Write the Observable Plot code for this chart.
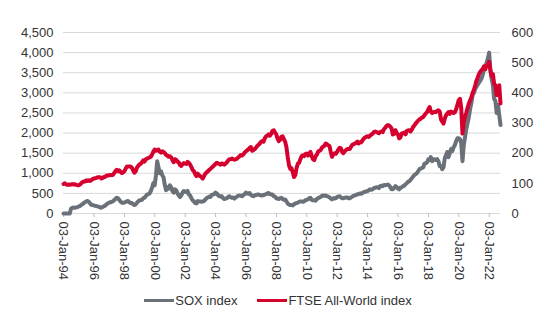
<!DOCTYPE html>
<html>
<head>
<meta charset="utf-8">
<script src="https://cdn.jsdelivr.net/npm/d3@7"></script>
<script src="https://cdn.jsdelivr.net/npm/@observablehq/plot@0.6"></script>
<style>
  body { margin: 0; background: #fff; font-family: "Liberation Sans", Arial, sans-serif; }
  #chart { width: 550px; height: 290px; }
  #legend { display: flex; justify-content: center; align-items: center; height: 20px; padding-left: 6px; font-size: 13px; color: #333; }
  .item { display: flex; align-items: center; margin: 0 10px; }
  .sw { width: 30px; height: 3px; margin-right: 1px; }
</style>
</head>
<body>
<div id="chart"></div>
<div id="legend"></div>
<script>
// Monthly observations (first of month), Jan 1994 .. Oct 2022
const startMonth = "1994-01-01";
const endMonth = "2022-10-01";

const seriesNames = ["SOX index", "FTSE All-World index"];
const seriesColors = ["#6b7179", "#d6002f"];

// SOX index (left axis)
const soxIndex = [
  0,0,0,0,0,0,125,140,150,145,150,160,                 // 1994
  175,185,210,230,260,280,300,310,290,250,215,210,     // 1995
  200,190,185,175,170,150,145,165,180,200,230,250,     // 1996
  270,280,290,300,330,360,390,380,340,300,270,270,     // 1997
  270,290,300,310,280,260,260,230,210,230,270,300,     // 1998
  330,330,340,380,390,430,470,480,500,560,650,760,     // 1999
  700,950,1300,1150,1000,1050,950,900,700,580,650,620, // 2000
  700,650,560,520,600,580,500,450,410,450,520,560,     // 2001
  540,530,560,470,450,380,330,300,260,250,310,300,     // 2002
  300,290,300,310,350,380,400,420,410,460,470,480,     // 2003
  520,500,460,430,420,430,380,360,370,380,410,430,     // 2004
  400,390,400,370,400,420,440,450,440,430,460,480,     // 2005
  520,500,490,510,460,440,430,450,460,470,470,460,     // 2006
  450,450,460,470,480,500,510,480,470,470,430,420,     // 2007
  380,370,360,380,390,360,340,350,300,250,220,210,     // 2008
  210,200,230,250,260,270,290,300,300,290,300,330,     // 2009
  340,350,380,390,340,330,330,320,360,380,400,410,     // 2010
  440,450,440,450,430,420,400,370,350,380,370,380,     // 2011
  410,420,430,400,380,380,390,400,400,380,380,400,     // 2012
  420,440,450,460,480,480,500,490,510,530,540,550,     // 2013
  560,580,600,590,600,630,640,650,650,630,680,690,     // 2014
  680,710,700,710,720,700,660,600,600,640,680,660,     // 2015
  620,600,640,650,680,690,730,750,790,800,840,880,     // 2016
  920,960,980,1000,1050,1100,1120,1130,1150,1240,1250,1270, // 2017
  1350,1330,1400,1300,1340,1350,1330,1350,1300,1180,1180,1100, // 2018
  1150,1380,1450,1530,1400,1500,1600,1550,1650,1700,1800,1870, // 2019
  1870,1850,1750,1300,1700,1900,2100,2250,2400,2600,2750,2950, // 2020
  3000,3100,3150,3200,3250,3300,3350,3450,3600,3650,3750,3850, // 2021
  4000,3550,3350,3200,2850,2800,2500,2700,2450,2200            // 2022
];

// FTSE All-World index (right axis)
const ftseAllWorld = [
  98,100,97,95,96,95,96,98,96,97,95,94,                // 1994
  94,96,100,104,106,106,110,108,110,108,111,114,       // 1995
  116,117,118,120,120,120,116,118,121,122,126,126,     // 1996
  127,128,127,128,134,140,145,140,143,138,134,136,     // 1997
  140,148,155,156,156,156,152,143,135,140,152,158,     // 1998
  163,165,170,176,172,180,182,184,186,188,196,205,     // 1999
  212,208,210,212,205,202,206,204,200,194,192,188,     // 2000
  190,186,178,170,180,178,172,170,160,158,164,167,     // 2001
  166,164,171,168,162,154,144,140,130,124,132,126,     // 2002
  124,120,116,124,132,136,140,144,148,152,156,160,     // 2003
  164,168,166,164,162,166,164,162,166,170,176,180,     // 2004
  180,182,180,178,180,182,186,190,194,192,196,202,     // 2005
  206,210,212,218,220,208,210,214,218,224,228,232,     // 2006
  238,240,238,250,256,258,262,258,264,274,276,268,     // 2007
  262,248,240,244,254,256,246,238,220,188,160,148,     // 2008
  150,136,121,127,150,165,168,180,190,193,190,197,     // 2009
  199,192,198,204,190,180,177,190,195,205,208,210,     // 2010
  218,222,224,232,230,226,224,205,188,196,200,198,     // 2011
  204,212,218,216,204,200,206,210,214,214,214,221,     // 2012
  228,230,232,234,238,232,236,236,242,248,252,254,     // 2013
  256,254,258,262,264,270,272,270,268,266,270,272,     // 2014
  270,280,284,290,293,292,288,282,262,264,276,268,     // 2015
  262,249,252,265,266,268,262,274,275,276,272,278,     // 2016
  287,292,298,303,308,312,314,318,320,326,332,336,     // 2017
  345,353,338,333,336,337,336,340,342,338,312,305,     // 2018
  298,315,325,331,336,330,338,335,333,336,346,360,     // 2019
  375,380,350,265,300,320,334,350,365,375,385,400,     // 2020
  410,425,440,450,462,470,475,480,488,478,490,492,     // 2021
  503,475,455,462,430,425,392,420,425,365              // 2022
];

const xTickYears = [1994,1996,1998,2000,2002,2004,2006,2008,2010,2012,2014,2016,2018,2020,2022];
const leftTicks = [0,500,1000,1500,2000,2500,3000,3500,4000,4500];
const rightTicks = [0,100,200,300,400,500,600];

const leftMax = 4500, rightMax = 600;
const ratio = leftMax / rightMax;

const months = d3.utcMonth.range(new Date(startMonth), d3.utcDay.offset(new Date(endMonth), 1));
const soxData = months.map((d, i) => ({date: d, value: soxIndex[i]}));
const ftseData = months.map((d, i) => ({date: d, value: ftseAllWorld[i] * ratio}));
const xTicks = xTickYears.map(y => new Date(Date.UTC(y, 0, 3)));

const chart = Plot.plot({
  width: 550,
  height: 290,
  marginTop: 32,
  marginBottom: 77,
  marginLeft: 63,
  marginRight: 50,
  style: {fontFamily: "'Liberation Sans', Arial, sans-serif", fontSize: "13px", color: "#333", background: "#fff"},
  x: {type: "utc", domain: [new Date(startMonth), new Date(endMonth)]},
  y: {domain: [0, leftMax]},
  marks: [
    Plot.ruleY(leftTicks, {stroke: "#d9d9d9", strokeWidth: 1}),
    Plot.axisY({ticks: leftTicks, tickSize: 0, tickPadding: 10, tickFormat: d3.format(","), label: null}),
    Plot.axisY({anchor: "right", ticks: rightTicks.map(v => v * ratio), tickSize: 0, tickPadding: 11,
                tickFormat: d => String(Math.round(d / ratio)), label: null}),
    Plot.axisX({ticks: xTicks, tickFormat: d3.utcFormat("%d-%b-%y"), tickRotate: 90, tickSize: 4,
                tickPadding: 4, stroke: "#bfbfbf", fill: "#333", label: null}),
    Plot.lineY(soxData, {x: "date", y: "value", stroke: seriesColors[0], strokeWidth: 4}),
    Plot.lineY(ftseData, {x: "date", y: "value", stroke: seriesColors[1], strokeWidth: 4})
  ]
});
document.getElementById("chart").appendChild(chart);

const legend = document.getElementById("legend");
seriesNames.forEach((name, i) => {
  const item = document.createElement("div");
  item.className = "item";
  const sw = document.createElement("div");
  sw.className = "sw";
  sw.style.background = seriesColors[i];
  const label = document.createElement("span");
  label.textContent = name;
  item.appendChild(sw);
  item.appendChild(label);
  legend.appendChild(item);
});
</script>
</body>
</html>
